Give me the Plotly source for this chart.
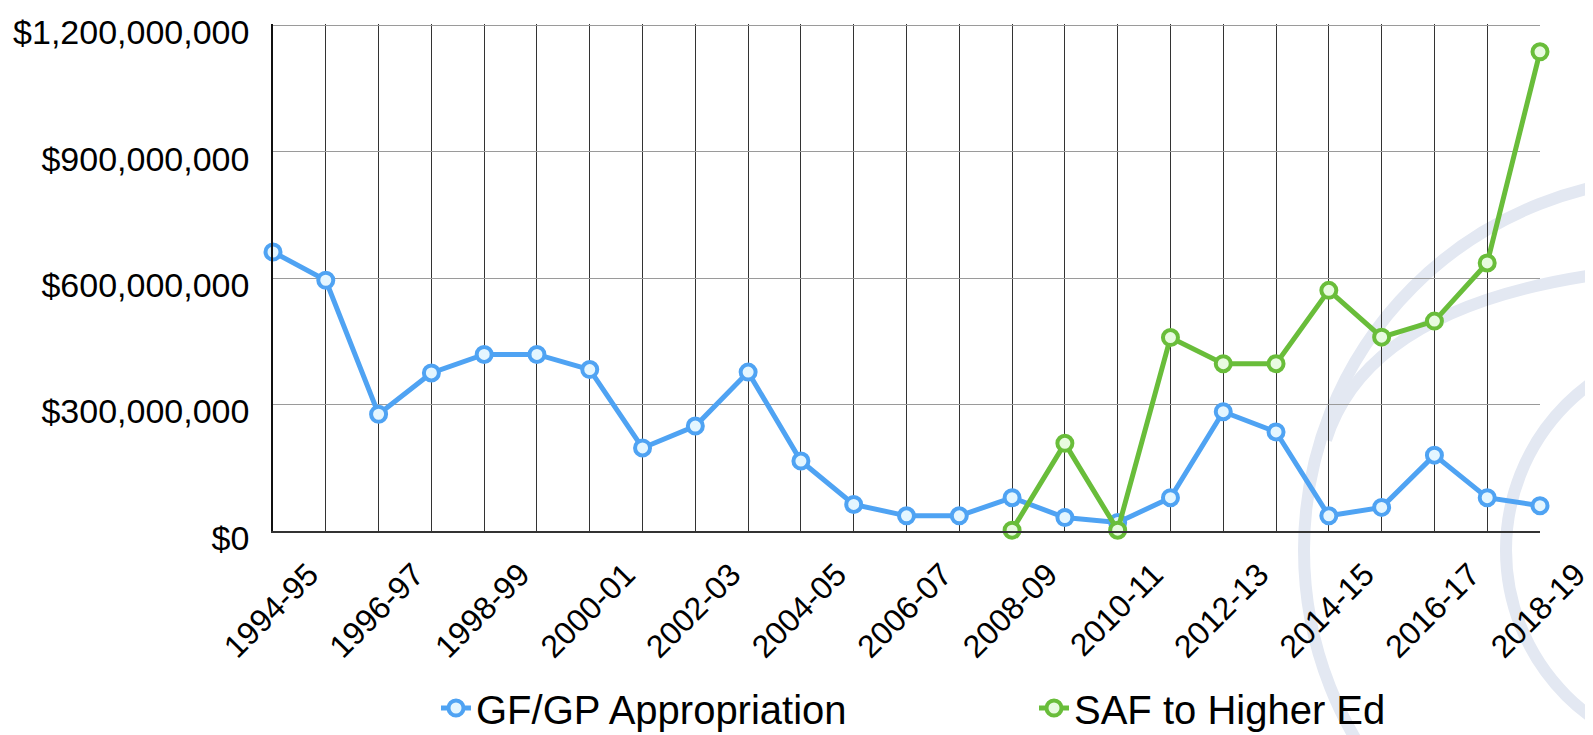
import plotly.graph_objects as go

years = ["1994-95", "1995-96", "1996-97", "1997-98", "1998-99", "1999-00",
         "2000-01", "2001-02", "2002-03", "2003-04", "2004-05", "2005-06",
         "2006-07", "2007-08", "2008-09", "2009-10", "2010-11", "2011-12",
         "2012-13", "2013-14", "2014-15", "2015-16", "2016-17", "2017-18",
         "2018-19"]

# values in millions of dollars
gfgp_millions = [662, 595, 277, 375, 419, 419, 383, 197, 249, 377, 166, 63,
                 36, 36, 79, 32, 20, 79, 283, 235, 36, 56, 180, 79, 60]
saf_millions = [None] * 14 + [2, 208, 2, 459, 397, 397, 571, 460, 498, 636, 1137]

tick_labels = [y if i % 2 == 0 else "" for i, y in enumerate(years)]

gfgp = [v * 1e6 if v is not None else None for v in gfgp_millions]
saf = [v * 1e6 if v is not None else None for v in saf_millions]

BLUE = "#4FA3F3"
GREEN = "#69BD3A"
FONT = "Liberation Sans, Arial, Helvetica, sans-serif"

fig = go.Figure()
fig.add_trace(go.Scatter(
    x=years, y=gfgp, name="GF/GP Appropriation", mode="lines+markers",
    line=dict(color=BLUE, width=5),
    marker=dict(symbol="circle", size=15, color="#E4F6FF",
                line=dict(color=BLUE, width=4)),
    cliponaxis=False,
))
fig.add_trace(go.Scatter(
    x=years, y=saf, name="SAF to Higher Ed", mode="lines+markers",
    line=dict(color=GREEN, width=5),
    marker=dict(symbol="circle", size=15, color="#E8FBE0",
                line=dict(color=GREEN, width=4)),
    cliponaxis=False, connectgaps=False,
))

# page body has an 8px margin: figure is sized/offset so the plot area
# lands at screen x 273..1540, y 24..531
L, R, T, B = 273, 1540, 24, 531
def px_x(p):
    return (p - L) / (R - L)
def px_y(p):
    return (B - p) / (B - T)

ring_color = "#E3E8F2"
shapes = []
for cx, cy, r in [(1676, 550, 372), (1712, 550, 206)]:
    shapes.append(dict(type="circle", xref="paper", yref="paper",
                       xsizemode="pixel", ysizemode="pixel",
                       xanchor=px_x(cx), yanchor=px_y(cy),
                       x0=-r, x1=r, y0=-r, y1=r,
                       line=dict(color=ring_color, width=12), layer="below"))
# inner swoosh joining the big ring
p0, c, p1 = (1625, 271), (1370, 300), (1326, 440)
path = "M {:.5f},{:.5f} Q {:.5f},{:.5f} {:.5f},{:.5f}".format(
    px_x(p0[0]), px_y(p0[1]), px_x(c[0]), px_y(c[1]), px_x(p1[0]), px_y(p1[1]))
shapes.append(dict(type="path", xref="paper", yref="paper", path=path,
                   line=dict(color=ring_color, width=12), layer="below"))
fig.update_layout(shapes=shapes)

fig.update_layout(
    width=1585, height=727,
    margin=dict(l=265, r=53, t=16, b=204, autoexpand=False),
    paper_bgcolor="white", plot_bgcolor="rgba(0,0,0,0)",
    font=dict(family=FONT, size=34, color="black"),
    showlegend=True,
    legend=dict(orientation="h", x=px_x(436), xanchor="left", y=px_y(708),
                yanchor="middle", font=dict(size=40), entrywidth=553,
                bgcolor="rgba(0,0,0,0)"),
    xaxis=dict(type="category", range=[0, 24], tickmode="array",
               tickvals=years, ticktext=tick_labels, tickangle=-45,
               showgrid=True, gridcolor="#333333", gridwidth=1.3,
               showline=True, linecolor="#333333", linewidth=2,
               ticks="", ticklabelshift=36, ticklabelstandoff=10,
               ticklabeloverflow="allow",
               automargin=False, tickfont=dict(size=32)),
    yaxis=dict(range=[0, 1.203e9], dtick=3e8, tickformat="$,.0f",
               showgrid=True, gridcolor="#9a9a9a", gridwidth=1.3,
               showline=True, linecolor="#111111", linewidth=1.5,
               zeroline=False, ticks="", ticklabelstandoff=15,
               ticklabelshift=7, ticklabeloverflow="allow",
               automargin=False, tickfont=dict(size=34)),
)

fig.write_html("out.html")
